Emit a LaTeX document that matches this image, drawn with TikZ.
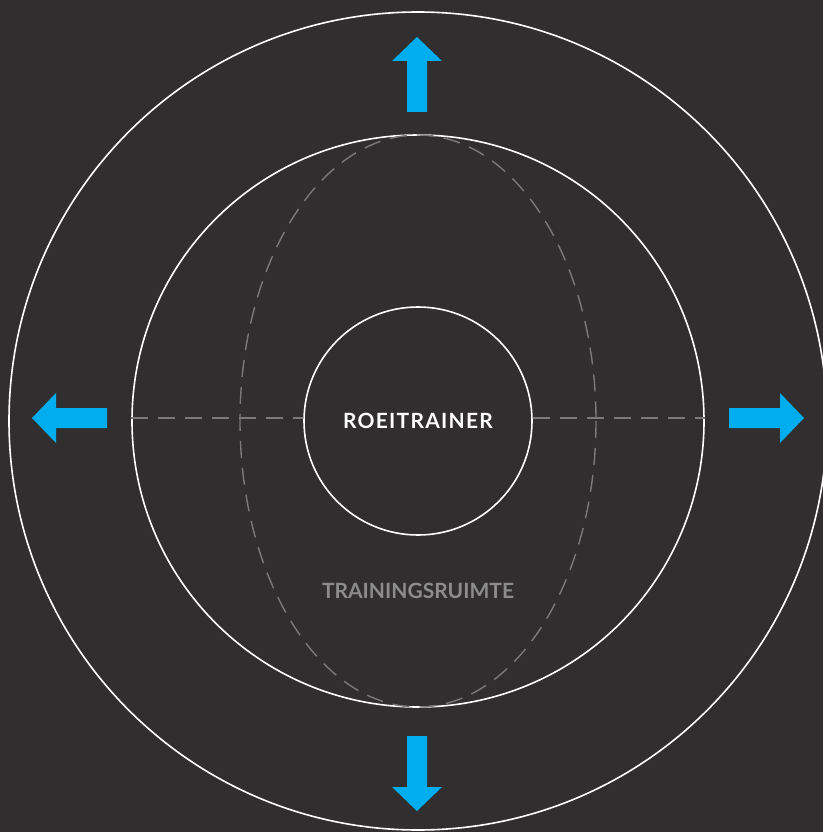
\documentclass[tikz,border=0pt]{standalone}
\usepackage{fontspec}
\setmainfont{Lato}
\newfontfamily\trackedfont[LetterSpace=6]{Lato}
\usetikzlibrary{calc}
\definecolor{bgc}{HTML}{302E2F}
\definecolor{arrowblue}{HTML}{00ADEE}
\definecolor{dashgray}{HTML}{7A7A7A}
\definecolor{labelgray}{HTML}{8C8C8C}
\tikzset{
  ring/.style={circle, draw=white, line width=1.6pt, inner sep=0pt},
  dashline/.style={draw=dashgray, line width=1.4pt, dash pattern=on 17pt off 10pt},
  barrow/.pic={\fill[arrowblue] (0,-10) -- (51,-10) -- (51,-25) -- (75,0) -- (51,25) -- (51,10) -- (0,10) -- cycle;},
  title/.style={font=\trackedfont\bfseries\fontsize{21}{24}\selectfont, text=white},
  sublabel/.style={font=\bfseries\fontsize{21}{24}\selectfont, text=labelgray}
}
\begin{document}
\begin{tikzpicture}[x=1pt,y=-1pt]
\fill[bgc] (0,0) rectangle (823,832);
\useasboundingbox (0,0) rectangle (823,832);
\coordinate (c) at (418,421);
\node[ring, minimum size=818pt] (outer) at (c) {};
\node[ring, minimum size=572pt] (mid) at (c) {};
\draw[dashline] (c) ellipse [x radius=178, y radius=286];
\node[ring, minimum size=228pt] (inner) at (c) {};
\draw[dashline] ($(mid.west)+(0,-3)$) -- ($(inner.west)+(0,-3)$);
\draw[dashline] ($(inner.east)+(0,-3)$) -- ($(mid.east)+(0,-3)$);
\node[title] (roei) at (418,421) {ROEITRAINER};
\node[sublabel] (ruimte) at (418,591) {TRAININGSRUIMTE};
\pic[rotate=90] at (417,112) {barrow};
\pic[rotate=270] at (417,736) {barrow};
\pic[rotate=180] at (107,418) {barrow};
\pic at (729,418) {barrow};
\end{tikzpicture}
\end{document}
